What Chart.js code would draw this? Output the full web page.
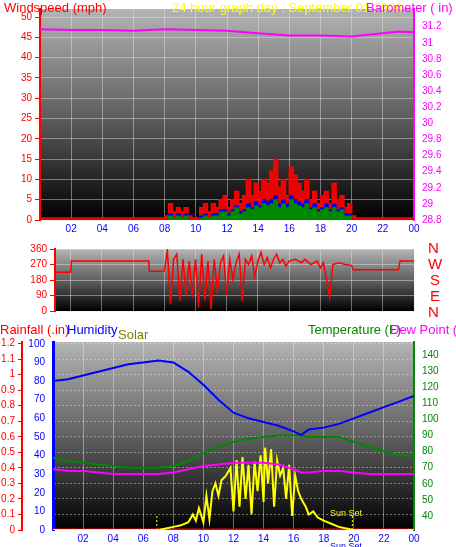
<!DOCTYPE html>
<html><head><meta charset="utf-8">
<script src="https://cdn.jsdelivr.net/npm/chart.js@4"></script>
<style>
body{margin:0;background:#fff;width:456px;height:547px;position:relative;overflow:hidden;font-family:"Liberation Sans",Arial,sans-serif}
canvas{position:absolute;left:0}
.t{position:absolute;font-size:13px;white-space:nowrap;line-height:13px}
</style></head><body>
<canvas id="c1" style="top:0px" width="456" height="245"></canvas>
<canvas id="c2" style="top:240px" width="456" height="80"></canvas>
<canvas id="c3" style="top:330px" width="456" height="217"></canvas>
<div class="t" style="left:4px;top:1px;color:#f00">Windspeed (mph)</div>
<div class="t" style="left:172px;top:1px;color:#ff0">24 hour graph day : September 01 2006</div>
<div class="t" style="left:366px;top:1px;color:#f0f">Barometer ( in)</div>
<div class="t" style="left:428px;top:240px;color:#f00;font-size:15px;line-height:15px">N</div>
<div class="t" style="left:428px;top:256px;color:#f00;font-size:15px;line-height:15px">W</div>
<div class="t" style="left:430px;top:272px;color:#f00;font-size:15px;line-height:15px">S</div>
<div class="t" style="left:430px;top:288px;color:#f00;font-size:15px;line-height:15px">E</div>
<div class="t" style="left:428px;top:304px;color:#f00;font-size:15px;line-height:15px">N</div>
<div class="t" style="left:0px;top:323px;color:#f00">Rainfall (.in)</div>
<div class="t" style="left:67px;top:323px;color:#00f">Humidity</div>
<div class="t" style="left:118px;top:328px;color:#808000">Solar</div>
<div class="t" style="left:308px;top:323px;color:#080">Temperature (F)</div>
<div class="t" style="left:390px;top:323px;color:#f0f">Dew Point (F)</div>
<div class="t" style="left:330px;top:507px;color:#ff0;font-size:9px">Sun Set</div>
<div class="t" style="left:330px;top:540px;color:#00f;font-size:9px">Sun Set</div>
<script>
const xTicks=[2,4,6,8,10,12,14,16,18,20,22,24];
const baroHours=[0,2,4,6,8,10,12,14,16,18,20,22,23,24];
const baroVals=[31.17,31.16,31.16,31.15,31.17,31.16,31.15,31.12,31.09,31.09,31.08,31.12,31.14,31.13];
const windHours=[0,7.5,7.75,8,8.25,8.5,8.75,9,9.25,9.5,9.75,10,10.25,10.5,10.75,11,11.25,11.5,11.75,12,12.25,12.5,12.75,13,13.25,13.5,13.75,14,14.25,14.5,14.75,15,15.25,15.5,15.75,16,16.25,16.5,16.75,17,17.25,17.5,17.75,18,18.25,18.5,18.75,19,19.25,19.5,19.75,20,20.25,20.5,21,24];
const windGust=[0.5,0.5,0.5,1,4,2,3,2,3,1,0.5,0.5,3,4,2,4,3,5,6,3,5,7,4,6,10,6,9,7,10,9,12,15,8,10,6,13,11,9,7,10,5,7,4,6,7,4,9,5,6,3,4,1,0.5,0.5,0.5,0.5];
const windAvg=[0,0,0,0,1,0.5,1,0.5,1,0,0,0,0.5,1,0.5,1,1,2,2,1,2,3,1.5,2,3,2.5,3.5,3,4,3.5,4,5,3,4,3,5,4,3.5,3,4,2.5,3,2,2.5,3,2,3,2,2.5,1,1,0,0,0,0,0];
const windSpeed=[0,0,0,0,1.5,0.5,1.5,0.5,1.5,0,0,0,1,1.5,0.5,1.5,1.5,2.5,2.5,1.5,2.5,3.5,2,2.5,4,3,4.5,3.5,5,4.5,5,6,4,5,4,6,5,4.5,4,5,3,4,2.5,3,4,2.5,4,2.5,3,1.5,1.5,0,0,0,0,0];
const dirHours=[1,2,2.05,7,7.05,8,8.2,8.4,8.6,8.8,9,9.2,9.4,9.6,9.8,10,10.2,10.4,10.6,10.8,11,11.2,11.4,11.6,11.8,12,12.2,12.4,12.6,12.8,13,13.2,13.4,13.6,13.8,14,14.2,14.4,14.6,14.8,15,15.2,15.4,15.6,15.8,16,16.4,16.8,17,17.4,17.8,18,18.2,18.6,18.8,19.2,19.6,20,20.1,23,23.1,24];
const dirVals=[225,225,290,290,230,232,350,40,300,330,60,300,90,290,80,300,20,330,60,290,10,300,120,280,320,90,300,180,280,330,60,300,270,320,200,290,340,270,310,250,300,330,280,300,260,290,300,280,300,270,290,250,280,80,270,280,270,265,240,240,290,290];
const climHours=[0,1,2,3,4,5,6,7,8,9,10,11,12,13,14,15,16,16.5,17,18,19,20,21,22,23,24];
const humidity=[80,81,83,85,87,89,90,91,90,85,78,70,63,60,58,56,53,51,54,55,57,60,63,66,69,72];
const temperature=[76,74,73,72,71,70,70,70,71,74,79,83,86,88,89,90,90,90,89,89,89,86,83,80,78,77];
const dewpoint=[69,68,68,67,66,66,66,66,67,69,71,72,73,73,73,72,69,67,67,68,68,67,66,66,66,66];
const solarHours=[0,7,7.5,8,8.5,9,9.3,9.5,9.7,10,10.2,10.4,10.6,10.8,11,11.2,11.5,11.8,12,12.2,12.4,12.6,12.8,13,13.2,13.4,13.6,13.8,14,14.1,14.3,14.5,14.7,14.9,15.1,15.3,15.5,15.7,15.9,16.1,16.3,16.5,16.8,17,17.3,17.6,18,18.5,19,19.5,20,24];
const solar=[0,0,0.01,0.02,0.03,0.05,0.1,0.06,0.14,0.05,0.22,0.07,0.25,0.3,0.22,0.32,0.35,0.4,0.12,0.45,0.15,0.47,0.2,0.42,0.1,0.44,0.25,0.48,0.18,0.53,0.3,0.52,0.15,0.45,0.35,0.4,0.2,0.42,0.09,0.35,0.25,0.2,0.15,0.1,0.12,0.08,0.06,0.04,0.02,0.01,0,0];
const rainHours=[0,24];
const rain=[0,0];

const xy=(h,v)=>h.map((x,i)=>({x,y:v[i]}));
const bg={id:'bg',beforeDraw(c){const a=c.chartArea,g=c.ctx.createLinearGradient(0,a.top,0,a.bottom);g.addColorStop(0,'#b4b4b4');g.addColorStop(0.5,'#606060');g.addColorStop(1,'#000');c.ctx.save();c.ctx.fillStyle=g;c.ctx.fillRect(a.left,a.top,a.right-a.left,a.bottom-a.top);c.ctx.restore();}};
const grid={color:'rgba(230,230,230,0.45)',borderDash:[2,2],lineWidth:1};
const fw=w=>function(s){s.width=w;};
const fh=h=>function(s){s.height=h;};
const font={family:'Liberation Sans',size:10};
const xAxis=(show,h,min)=>({type:'linear',min:min,max:24,afterFit:fh(h),afterBuildTicks:s=>{s.ticks=xTicks.map(v=>({value:v}));},
  ticks:{display:show,color:'#00f',font,callback:v=>String(v%24).padStart(2,'0')},grid:{...grid,drawTicks:false},border:{display:false}});
const base={responsive:false,animation:false,plugins:{legend:{display:false},tooltip:{enabled:false}},elements:{point:{radius:0},line:{borderWidth:1,tension:0}}};
Chart.register(bg);

new Chart(document.getElementById('c1'),{type:'line',data:{datasets:[
 {data:xy(baroHours,baroVals),borderColor:'#f0f',borderWidth:2,yAxisID:'yb'},
 {data:xy(windHours,windAvg),borderColor:'#080',backgroundColor:'#080',fill:'origin',yAxisID:'y',stepped:true},
 {data:xy(windHours,windSpeed),borderColor:'#00f',backgroundColor:'#00c',fill:'origin',yAxisID:'y',stepped:true},
 {data:xy(windHours,windGust),borderColor:'#f00',backgroundColor:'rgba(255,0,0,0.9)',fill:'origin',yAxisID:'y',borderWidth:1.5,stepped:true}
]},options:{...base,layout:{padding:{top:5}},scales:{
 x:xAxis(true,25,0),
 y:{position:'left',min:0,max:52,afterFit:fw(40),afterBuildTicks:s=>{s.ticks=[0,5,10,15,20,25,30,35,40,45,50].map(v=>({value:v}));},ticks:{color:'#f00',font},grid:{...grid,tickColor:'#f00',tickLength:5},border:{color:'#f00',width:2}},
 yb:{position:'right',min:28.8,max:31.42,afterFit:fw(42),afterBuildTicks:s=>{s.ticks=[28.8,29,29.2,29.4,29.6,29.8,30,30.2,30.4,30.6,30.8,31,31.2].map(v=>({value:v}));},ticks:{color:'#f0f',font,callback:v=>String(+v.toFixed(1))},grid:{display:false,tickColor:'#f0f',tickLength:5},border:{color:'#f0f',width:2}}
}}});

new Chart(document.getElementById('c2'),{type:'line',data:{datasets:[
 {data:xy(dirHours,dirVals),borderColor:'#f00',borderWidth:1.5,yAxisID:'y'}
]},options:{...base,layout:{padding:{top:7}},scales:{
 x:xAxis(false,8,1),
 y:{position:'left',min:0,max:360,afterFit:fw(55),afterBuildTicks:s=>{s.ticks=[0,90,180,270,360].map(v=>({value:v}));},ticks:{color:'#f00',font},grid:{...grid,tickColor:'#f00',tickLength:5},border:{color:'#f00',width:2}},
 y2:{position:'right',min:0,max:360,afterFit:fw(42),ticks:{display:false},grid:{display:false},border:{display:false}}
}}});

new Chart(document.getElementById('c3'),{type:'line',data:{datasets:[
 {data:xy(climHours,humidity),borderColor:'#00f',borderWidth:2,yAxisID:'yh'},
 {data:xy(climHours,temperature),borderColor:'#080',borderWidth:2,yAxisID:'yt'},
 {data:xy(climHours,dewpoint),borderColor:'#f0f',borderWidth:2,yAxisID:'yt'},
 {data:xy(solarHours,solar),borderColor:'#ff0',borderWidth:2,yAxisID:'yr'},
 {data:xy(rainHours,rain),borderColor:'#f00',borderWidth:3,yAxisID:'yr'},
 {data:[{x:6.9,y:0},{x:6.9,y:0.1}],borderColor:'#ff0',borderDash:[2,2],yAxisID:'yr'},
 {data:[{x:19.9,y:0},{x:19.9,y:0.1}],borderColor:'#ff0',borderDash:[2,2],yAxisID:'yr'}
]},options:{...base,layout:{padding:{top:12}},scales:{
 x:xAxis(true,17,0),
 yh:{position:'left',min:0,max:101,afterFit:fw(31),afterBuildTicks:s=>{s.ticks=[0,10,20,30,40,50,60,70,80,90,100].map(v=>({value:v}));},ticks:{color:'#00f',font},grid:{display:false,tickColor:'#00f',tickLength:5},border:{color:'#00f',width:3}},
 yr:{position:'left',min:0,max:1.21,afterFit:fw(22),afterBuildTicks:s=>{s.ticks=[0,0.1,0.2,0.3,0.4,0.5,0.6,0.7,0.8,0.9,1,1.1,1.2].map(v=>({value:v}));},ticks:{color:'#f00',font,callback:v=>String(+v.toFixed(1))},grid:{...grid,tickColor:'#f00',tickLength:4},border:{color:'#f00',width:2,dash:[2,2]}},
 yt:{position:'right',min:31.3,max:148,afterFit:fw(42),afterBuildTicks:s=>{s.ticks=[40,50,60,70,80,90,100,110,120,130,140].map(v=>({value:v}));},ticks:{color:'#080',font},grid:{display:false,tickColor:'#080',tickLength:5},border:{color:'#080',width:2,dash:[2,2]}}
}}});
</script></body></html>
